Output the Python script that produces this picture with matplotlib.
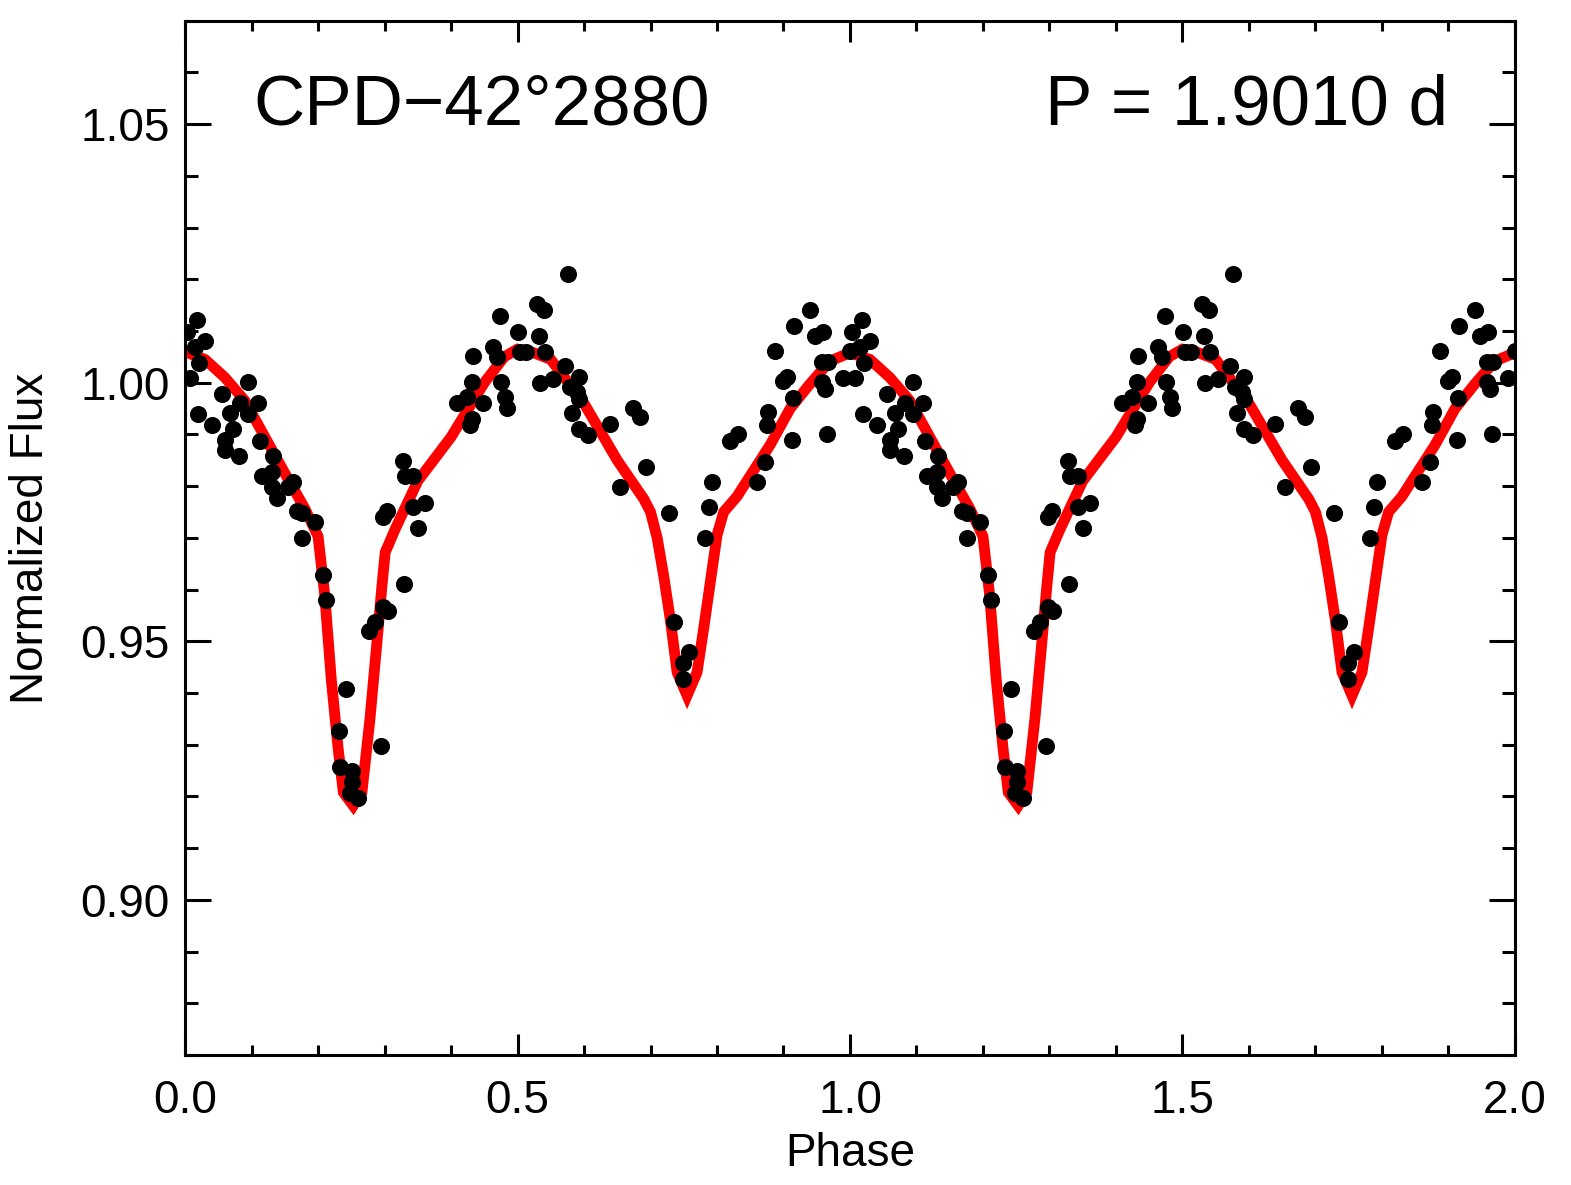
import numpy as np
import matplotlib
matplotlib.use('Agg')
import matplotlib.pyplot as plt
from matplotlib.ticker import MultipleLocator, FormatStrFormatter

plt.rcParams['font.family'] = ['Liberation Sans', 'DejaVu Sans']

star_name = 'CPD\u221242\u00b02880'
period_text = 'P = 1.9010 d'

# observed points, one cycle (phase 0-1); shown again at phase+1
phase = [0.0176, 0.0030, 0.0301, 0.0150, 0.0211, 0.0075, 0.0944, 0.0552, 0.1099, 0.0828,
         0.0677, 0.0948, 0.0196, 0.0406, 0.0722, 0.0602, 0.1129, 0.0602, 0.0813, 0.1324,
         0.1159, 0.1309, 0.1309, 0.1384, 0.1625, 0.1550, 0.1685, 0.1761, 0.1956, 0.1761,
         0.2077, 0.2122, 0.2423, 0.2318, 0.2333, 0.2513, 0.2513, 0.2483, 0.2603, 0.2950,
         0.3281, 0.3311, 0.3431, 0.3040, 0.2980, 0.3431, 0.3612, 0.3506, 0.3296, 0.2980,
         0.3055, 0.2859, 0.2769, 0.5759, 0.5293, 0.5402, 0.4740, 0.5007, 0.5323, 0.4635,
         0.4695, 0.5041, 0.5132, 0.5418, 0.4334, 0.5719, 0.5929, 0.5538, 0.5342, 0.4319,
         0.4751, 0.5794, 0.5899, 0.4816, 0.4846, 0.4093, 0.4244, 0.4485, 0.5929, 0.4319,
         0.4289, 0.5824, 0.6396, 0.5929, 0.6065, 0.6742, 0.6847, 0.6937, 0.6546, 0.7284,
         0.8774, 0.8758, 0.8322, 0.8202, 0.9135, 0.8728, 0.7931, 0.8608, 0.7886, 0.7825,
         0.7359, 0.7585, 0.7494, 0.7494, 0.9406, 0.9165, 0.9601, 0.9481, 0.9995, 0.8879,
         0.9586, 0.9676, 0.9059, 0.8999, 0.9895, 0.9586, 0.9631, 0.9150, 0.9661]
flux = [1.0121, 1.0099, 1.0080, 1.0070, 1.0039, 1.0010, 1.0001, 0.9979, 0.9960, 0.9960,
        0.9941, 0.9939, 0.9939, 0.9919, 0.9910, 0.9890, 0.9888, 0.9869, 0.9859, 0.9859,
        0.9819, 0.9828, 0.9799, 0.9778, 0.9809, 0.9799, 0.9751, 0.9749, 0.9730, 0.9699,
        0.9629, 0.9579, 0.9408, 0.9327, 0.9257, 0.9250, 0.9228, 0.9207, 0.9197, 0.9298,
        0.9848, 0.9819, 0.9819, 0.9751, 0.9741, 0.9759, 0.9768, 0.9720, 0.9610, 0.9567,
        0.9558, 0.9538, 0.9519, 1.0210, 1.0152, 1.0140, 1.0130, 1.0099, 1.0091, 1.0070,
        1.0049, 1.0059, 1.0059, 1.0059, 1.0051, 1.0032, 1.0012, 1.0008, 0.9999, 1.0001,
        1.0001, 0.9991, 0.9983, 0.9973, 0.9952, 0.9960, 0.9972, 0.9960, 0.9968, 0.9929,
        0.9919, 0.9941, 0.9921, 0.9910, 0.9898, 0.9952, 0.9933, 0.9838, 0.9799, 0.9749,
        0.9943, 0.9919, 0.9900, 0.9888, 0.9890, 0.9847, 0.9808, 0.9808, 0.9759, 0.9699,
        0.9538, 0.9480, 0.9459, 0.9428, 1.0140, 1.0109, 1.0099, 1.0090, 1.0061, 1.0061,
        1.0041, 1.0041, 1.0012, 1.0003, 1.0010, 1.0001, 0.9987, 0.9970, 0.9900]

# model light curve, one cycle
model_phase = [0.00, 0.03, 0.06, 0.09, 0.12, 0.15, 0.18, 0.20, 0.21, 0.22,
               0.23, 0.238, 0.253, 0.266, 0.278, 0.288, 0.296, 0.301, 0.316, 0.35,
               0.40, 0.45, 0.48, 0.50, 0.52, 0.55, 0.60, 0.65, 0.69, 0.70,
               0.71, 0.72, 0.73, 0.74, 0.755, 0.77, 0.78, 0.79, 0.80, 0.81,
               0.83, 0.88, 0.91, 0.94, 0.97, 1.00]
model_flux = [1.0060, 1.0045, 1.0010, 0.9965, 0.9895, 0.9825, 0.9757, 0.9703, 0.9590, 0.9425,
              0.9295, 0.9208, 0.9182, 0.9208, 0.9349, 0.9490, 0.9606, 0.9672, 0.9717, 0.9810,
              0.9895, 1.0000, 1.0050, 1.0065, 1.0060, 1.0045, 0.9960, 0.9850, 0.9775, 0.9750,
              0.9700, 0.9625, 0.9540, 0.9440, 0.9395, 0.9440, 0.9525, 0.9615, 0.9705, 0.9750,
              0.9780, 0.9880, 0.9950, 0.9998, 1.0042, 1.0058]

ph = np.asarray(phase)
fl = np.asarray(flux)
mp = np.asarray(model_phase)
mf = np.asarray(model_flux)

fig = plt.figure(figsize=(15.71, 11.85), dpi=100)
ax = fig.add_axes([0.1178, 0.1097, 0.8465, 0.8728])

# two cycles
ax.plot(np.concatenate([mp, mp[1:] + 1]), np.concatenate([mf, mf[1:]]),
        color='red', lw=7.8, solid_joinstyle='miter', zorder=2)
ax.plot(np.concatenate([ph, ph + 1]), np.concatenate([fl, fl]), 'o',
        color='black', ms=12.3, mew=0, zorder=3)

ax.set_xlim(0, 2)
ax.set_ylim(0.87, 1.07)
ax.xaxis.set_major_locator(MultipleLocator(0.5))
ax.xaxis.set_minor_locator(MultipleLocator(0.1))
ax.yaxis.set_major_locator(MultipleLocator(0.05))
ax.yaxis.set_minor_locator(MultipleLocator(0.01))
ax.xaxis.set_major_formatter(FormatStrFormatter('%.1f'))
ax.yaxis.set_major_formatter(FormatStrFormatter('%.2f'))

ax.tick_params(which='both', direction='in', top=True, right=True, width=2.2,
               labelsize=33, color='black')
ax.tick_params(axis='x', which='major', length=15, pad=17)
ax.tick_params(axis='x', which='minor', length=7)
ax.tick_params(axis='y', which='major', length=19, pad=11)
ax.tick_params(axis='y', which='minor', length=9.5)
for sp in ax.spines.values():
    sp.set_linewidth(2.2)

ax.set_xlabel('Phase', fontsize=33, labelpad=7)
ax.set_ylabel('Normalized Flux', fontsize=33, labelpad=20)

ax.text(0.102, 1.05, star_name, fontsize=51, ha='left', va='baseline')
ax.text(1.899, 1.05, period_text, fontsize=51, ha='right', va='baseline')

fig.savefig('out.png', dpi=100)
